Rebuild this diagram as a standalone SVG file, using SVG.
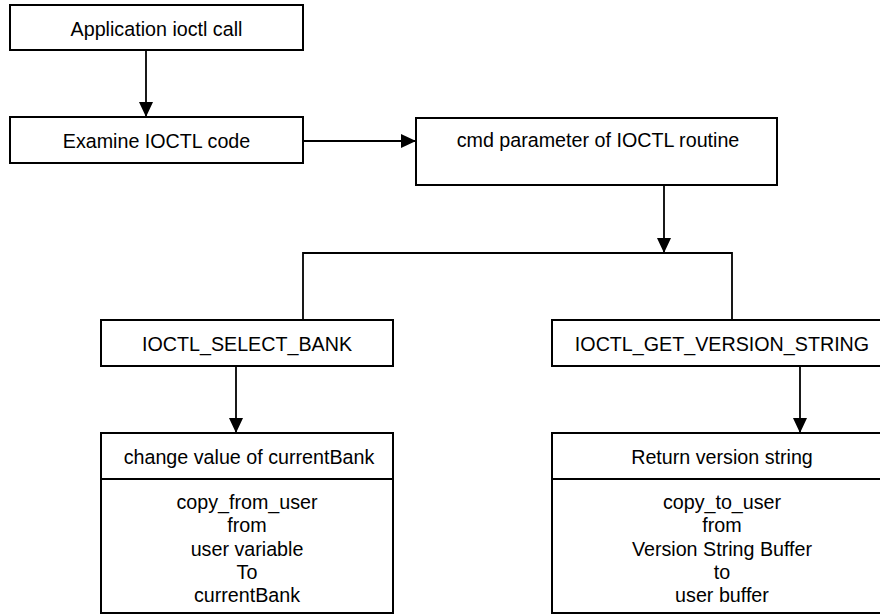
<svg xmlns="http://www.w3.org/2000/svg" width="880" height="615" viewBox="0 0 880 615">
<style>
.box{fill:#fff;stroke:#000;stroke-width:2}
.t{font-family:"Liberation Sans",Arial,sans-serif;font-size:19.7px;fill:#000;text-anchor:middle}
.c{fill:none;stroke:#000;stroke-width:1.8}
</style>
<defs>
<marker id="ah" markerUnits="userSpaceOnUse" markerWidth="15" markerHeight="14" refX="15" refY="7" orient="auto">
<path d="M0,0 L15,7 L0,14 z" fill="#000"/>
</marker>
</defs>
<rect width="880" height="615" fill="#fff"/>
<g id="connectors">
<line class="c" x1="146" y1="50" x2="146" y2="117" marker-end="url(#ah)"/>
<line class="c" x1="303" y1="141" x2="416" y2="141" marker-end="url(#ah)"/>
<line class="c" x1="664" y1="185" x2="664" y2="253" marker-end="url(#ah)"/>
<polyline class="c" points="303,320 303,253 732,253 732,320"/>
<line class="c" x1="236" y1="366" x2="236" y2="433" marker-end="url(#ah)"/>
<line class="c" x1="800" y1="366" x2="800" y2="433" marker-end="url(#ah)"/>
</g>
<g id="app-call">
<rect class="box" x="10" y="5" width="293" height="45"/>
<text class="t" x="156.5" y="36">Application ioctl call</text>
</g>
<g id="examine">
<rect class="box" x="10" y="117" width="293" height="46"/>
<text class="t" x="156.5" y="148">Examine IOCTL code</text>
</g>
<g id="cmd-param">
<rect class="box" x="416" y="118" width="361" height="67"/>
<text class="t" x="598" y="147">cmd parameter of IOCTL routine</text>
</g>
<g id="select-bank">
<rect class="box" x="101" y="320" width="292" height="46"/>
<text class="t" x="247" y="351">IOCTL_SELECT_BANK</text>
</g>
<g id="get-version">
<rect class="box" x="552" y="320" width="340" height="46"/>
<text class="t" x="722" y="351">IOCTL_GET_VERSION_STRING</text>
</g>
<g id="change-bank">
<rect class="box" x="101" y="433" width="292" height="180"/>
<line class="box" x1="101" y1="479" x2="393" y2="479"/>
<text class="t" x="249" y="464">change value of currentBank</text>
<text class="t" x="247" y="509">copy_from_user</text>
<text class="t" x="247" y="532.3">from</text>
<text class="t" x="247" y="555.5">user variable</text>
<text class="t" x="247" y="578.7">To</text>
<text class="t" x="247" y="602">currentBank</text>
</g>
<g id="return-version">
<rect class="box" x="552" y="433" width="340" height="180"/>
<line class="box" x1="552" y1="479" x2="892" y2="479"/>
<text class="t" x="722" y="464">Return version string</text>
<text class="t" x="722" y="509">copy_to_user</text>
<text class="t" x="722" y="532.3">from</text>
<text class="t" x="722" y="555.5">Version String Buffer</text>
<text class="t" x="722" y="578.7">to</text>
<text class="t" x="722" y="602">user buffer</text>
</g>
</svg>
